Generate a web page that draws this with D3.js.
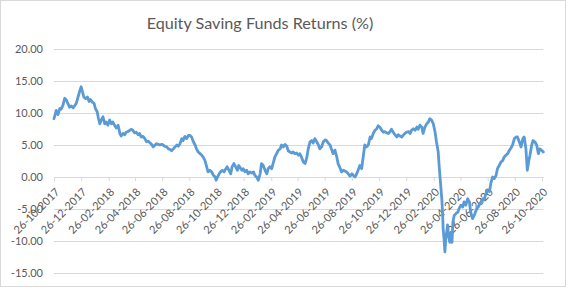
<!DOCTYPE html>
<html><head><meta charset="utf-8">
<script src="https://cdn.jsdelivr.net/npm/d3@7"></script>
<style>body{margin:0;background:#fff}svg{display:block}</style>
</head><body><svg id="c" width="570" height="291"></svg>
<script>
const title = "Equity Saving Funds Returns (%)";
const dates = ["2017-10-26","2017-10-31","2017-11-04","2017-11-08","2017-11-11","2017-11-15","2017-11-19","2017-11-23","2017-11-26","2017-11-30","2017-12-04","2017-12-08","2017-12-11","2017-12-15","2017-12-19","2017-12-23","2017-12-26","2017-12-29","2018-01-01","2018-01-05","2018-01-09","2018-01-13","2018-01-16","2018-01-20","2018-01-24","2018-01-27","2018-01-31","2018-02-03","2018-02-06","2018-02-09","2018-02-13","2018-02-17","2018-02-20","2018-02-24","2018-02-28","2018-03-04","2018-03-07","2018-03-11","2018-03-15","2018-03-19","2018-03-23","2018-03-26","2018-03-30","2018-04-03","2018-04-06","2018-04-10","2018-04-14","2018-04-18","2018-04-21","2018-04-25","2018-04-29","2018-05-03","2018-05-06","2018-05-10","2018-05-14","2018-05-18","2018-05-22","2018-05-26","2018-05-30","2018-06-02","2018-06-06","2018-06-10","2018-06-14","2018-06-17","2018-06-21","2018-06-25","2018-06-28","2018-07-02","2018-07-06","2018-07-10","2018-07-14","2018-07-17","2018-07-21","2018-07-25","2018-07-29","2018-08-01","2018-08-05","2018-08-09","2018-08-12","2018-08-16","2018-08-20","2018-08-24","2018-08-27","2018-08-31","2018-09-04","2018-09-08","2018-09-11","2018-09-15","2018-09-19","2018-09-23","2018-09-26","2018-09-30","2018-10-04","2018-10-07","2018-10-11","2018-10-15","2018-10-19","2018-10-23","2018-10-25","2018-10-29","2018-11-01","2018-11-04","2018-11-08","2018-11-12","2018-11-16","2018-11-19","2018-11-23","2018-11-27","2018-11-30","2018-12-04","2018-12-08","2018-12-12","2018-12-15","2018-12-22","2018-12-25","2018-12-29","2019-01-02","2019-01-05","2019-01-09","2019-01-13","2019-01-17","2019-01-20","2019-01-24","2019-01-28","2019-02-01","2019-02-04","2019-02-08","2019-02-12","2019-02-16","2019-02-19","2019-02-23","2019-02-27","2019-03-02","2019-03-06","2019-03-10","2019-03-14","2019-03-18","2019-03-21","2019-03-25","2019-03-29","2019-04-02","2019-04-05","2019-04-09","2019-04-13","2019-04-16","2019-04-20","2019-04-24","2019-04-28","2019-05-01","2019-05-05","2019-05-09","2019-05-13","2019-05-17","2019-05-20","2019-05-24","2019-05-28","2019-05-31","2019-06-04","2019-06-08","2019-06-12","2019-06-15","2019-06-19","2019-06-23","2019-06-27","2019-06-30","2019-07-04","2019-07-08","2019-07-12","2019-07-15","2019-07-19","2019-07-23","2019-07-26","2019-07-30","2019-08-03","2019-08-07","2019-08-11","2019-08-14","2019-08-18","2019-08-22","2019-08-26","2019-08-29","2019-09-02","2019-09-06","2019-09-09","2019-09-13","2019-09-17","2019-09-21","2019-09-24","2019-09-28","2019-10-02","2019-10-06","2019-10-09","2019-10-13","2019-10-17","2019-10-21","2019-10-24","2019-10-28","2019-11-01","2019-11-05","2019-11-08","2019-11-12","2019-11-16","2019-11-20","2019-11-23","2019-11-27","2019-12-01","2019-12-05","2019-12-08","2019-12-12","2019-12-16","2019-12-19","2019-12-23","2019-12-27","2019-12-31","2020-01-04","2020-01-07","2020-01-11","2020-01-15","2020-01-19","2020-01-22","2020-01-26","2020-01-30","2020-02-02","2020-02-06","2020-02-10","2020-02-14","2020-02-17","2020-02-21","2020-02-25","2020-02-29","2020-03-03","2020-03-07","2020-03-09","2020-03-12","2020-03-15","2020-03-17","2020-03-18","2020-03-20","2020-03-22","2020-03-24","2020-03-26","2020-03-28","2020-03-30","2020-04-02","2020-04-05","2020-04-07","2020-04-09","2020-04-12","2020-04-16","2020-04-20","2020-04-23","2020-04-27","2020-05-01","2020-05-04","2020-05-08","2020-05-12","2020-05-16","2020-05-19","2020-05-23","2020-05-27","2020-05-31","2020-06-04","2020-06-07","2020-06-11","2020-06-15","2020-06-18","2020-06-22","2020-06-26","2020-06-30","2020-07-03","2020-07-07","2020-07-11","2020-07-15","2020-07-18","2020-07-22","2020-07-26","2020-07-30","2020-08-02","2020-08-06","2020-08-10","2020-08-14","2020-08-17","2020-08-21","2020-08-25","2020-08-29","2020-09-01","2020-09-05","2020-09-09","2020-09-13","2020-09-16","2020-09-20","2020-09-23","2020-09-26","2020-09-29","2020-10-03","2020-10-06","2020-10-10","2020-10-14","2020-10-18","2020-10-21","2020-10-25","2020-10-29"];
const returns = [9.1,10.4,9.75,10.7,10.6,11.2,12.3,12.0,11.5,10.9,11.1,10.8,11.1,11.5,12.5,13.5,14.1,13.3,12.5,12.25,12.5,11.8,12.1,11.7,11.5,10.7,10.2,9.1,8.3,8.9,9.4,8.3,8.6,8.1,8.9,8.3,8.6,8.1,7.65,8.1,6.8,6.4,6.8,6.6,7.0,7.1,7.3,7.45,7.3,6.9,7.0,6.6,6.8,6.25,6.35,6.0,5.5,5.6,5.3,5.1,4.7,5.0,5.2,5.1,5.0,5.1,5.0,4.8,4.7,4.4,4.3,4.1,4.4,4.7,5.0,4.8,5.2,6.0,5.7,6.35,6.0,6.5,6.5,6.25,5.5,5.0,4.4,3.9,3.65,3.4,3.1,2.6,1.6,0.8,1.05,0.8,0.27,0.0,-0.5,0.1,0.5,0.8,1.05,0.8,1.3,1.6,1.05,0.5,1.6,2.1,1.6,1.05,1.8,1.05,1.3,0.8,1.05,0.5,0.8,0.6,0.8,0.27,0.0,-0.5,0.5,2.1,1.8,1.05,0.5,1.3,1.6,1.3,2.1,3.1,3.65,4.2,4.4,5.0,4.7,5.1,4.8,4.1,3.9,3.75,3.9,3.65,3.75,3.4,3.65,3.1,2.35,2.1,3.1,4.4,5.5,5.7,5.3,6.0,5.5,5.0,4.4,4.7,5.5,5.8,5.7,5.3,5.0,4.2,3.65,4.2,3.2,2.1,1.5,0.8,1.05,0.9,0.8,0.5,0.15,0.5,0.27,0.0,0.5,1.05,1.8,1.3,3.4,5.0,4.7,5.0,6.25,6.0,6.8,7.3,7.55,8.0,7.8,7.3,7.0,7.1,6.9,6.8,7.1,7.45,7.0,6.6,6.25,6.6,6.4,6.25,6.5,6.8,7.0,7.1,6.8,7.3,7.55,7.3,7.8,7.45,8.1,7.8,6.8,7.8,8.3,8.6,9.1,8.9,8.3,7.0,5.5,3.9,1.8,-0.8,-3.4,-6.0,-8.1,-9.6,-11.7,-9.6,-8.6,-7.5,-9.1,-10.2,-8.6,-10.2,-7.0,-6.0,-5.7,-5.5,-4.9,-4.4,-4.7,-3.9,-4.4,-3.4,-3.9,-5.5,-6.5,-6.0,-5.2,-4.7,-4.4,-3.9,-3.4,-3.6,-2.6,-2.1,-2.3,-1.05,0.0,-0.25,0.27,1.3,1.8,2.35,2.6,3.1,3.4,3.65,4.2,4.5,5.0,6.0,6.25,6.25,5.5,4.7,6.0,6.25,4.4,1.05,2.35,3.4,5.0,5.7,5.5,5.0,3.65,4.4,4.2,3.9];
const yTickValues = [20,15,10,5,0,-5,-10,-15];
const yTickLabels = ["20.00","15.00","10.00","5.00","0.00","-5.00","-10.00","-15.00"];
const xTickLabels = ["26-10-2017","26-12-2017","26-02-2018","26-04-2018","26-06-2018","26-08-2018","26-10-2018","26-12-2018","26-02-2019","26-04-2019","26-06-2019","26-08-2019","26-10-2019","26-12-2019","26-02-2020","26-04-2020","26-06-2020","26-08-2020","26-10-2020"];

const parseISO = d3.timeParse("%Y-%m-%d");
const parseLbl = d3.timeParse("%d-%m-%Y");
const fmtLbl = d3.timeFormat("%d-%m-%Y");
const data = dates.map((d,i)=>({date:parseISO(d), v:returns[i]}));
const xTicks = xTickLabels.map(parseLbl);

const FONT = "Lato, 'Liberation Sans', sans-serif";
const TXT = "#595959";
const GRID = "#d9d9d9";

const svg = d3.select("#c");
svg.append("rect").attr("x",0.5).attr("y",0.5).attr("width",565).attr("height",286)
  .attr("fill","#fff").attr("stroke",GRID);

const x = d3.scaleTime().domain(d3.extent(data,d=>d.date)).range([54,543.3]);
const y = d3.scaleLinear().domain([-15,20]).range([273,49]);

svg.append("text").attr("x",260).attr("y",29).attr("text-anchor","middle")
  .attr("font-family",FONT).attr("font-size",16.2).attr("fill",TXT).text(title);

const yAxis = d3.axisLeft(y).tickValues(yTickValues)
  .tickFormat((d,i)=>yTickLabels[i]).tickSize(-(543.3-54)).tickPadding(11);
const gy = svg.append("g").attr("transform","translate(54,0)").call(yAxis);
gy.select(".domain").remove();
gy.selectAll(".tick line").attr("stroke",GRID).attr("stroke-width",1);
gy.selectAll(".tick text").attr("font-family",FONT).attr("font-size",11).attr("fill",TXT);

const xAxis = d3.axisBottom(x).tickValues(xTicks).tickFormat(fmtLbl).tickSize(4).tickSizeOuter(0);
const gx = svg.append("g").attr("transform",`translate(0,${y(0)})`).call(xAxis);
gx.select(".domain").attr("stroke",GRID);
gx.selectAll(".tick line").attr("stroke",GRID);
gx.selectAll(".tick text").attr("font-family",FONT).attr("font-size",11).attr("fill",TXT)
  .attr("text-anchor","end").attr("dy","0.35em").attr("x",0).attr("y",0)
  .attr("transform","translate(3,13) rotate(-45)");

const line = d3.line().x(d=>x(d.date)).y(d=>y(d.v));
svg.append("path").datum(data).attr("d",line).attr("fill","none")
  .attr("stroke","#5b9bd5").attr("stroke-width",2.8).attr("stroke-linejoin","round").attr("stroke-linecap","round");
</script></body></html>
